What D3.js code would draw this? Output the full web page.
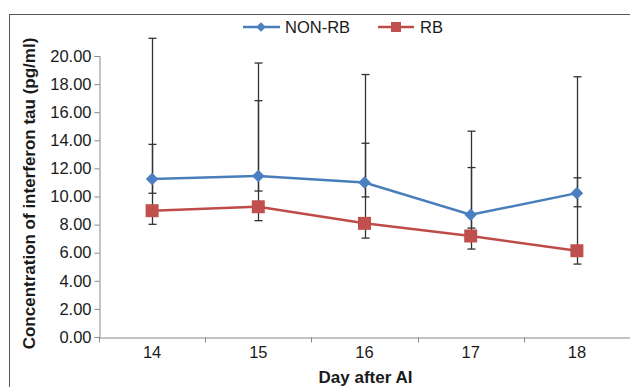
<!DOCTYPE html>
<html>
<head>
<meta charset="utf-8">
<script src="https://cdn.jsdelivr.net/npm/d3@7"></script>
<style>
  body { margin: 0; background: #fff; }
  text { font-family: "Liberation Sans", Arial, sans-serif; fill: #1a1a1a; }
</style>
</head>
<body>
<div id="chart"></div>
<script>
// data
var days = ["14", "15", "16", "17", "18"];
var nonRb = [11.25, 11.46, 11.0, 8.70, 10.24];
var nonRbLow = [10.23, 10.39, 9.97, 7.75, 9.27];
var nonRbHigh = [21.26, 19.5, 18.68, 14.65, 18.52];
var rb = [8.99, 9.27, 8.09, 7.19, 6.14];
var rbLow = [8.02, 8.28, 7.04, 6.26, 5.19];
var rbHigh = [13.71, 16.82, 13.79, 12.06, 11.33];
var yTicks = [0, 2, 4, 6, 8, 10, 12, 14, 16, 18, 20];

var W = 630, H = 387;
var margin = {top: 56, right: 0, bottom: 50, left: 99},
    width = W - margin.left - margin.right,
    height = H - margin.top - margin.bottom;

var svg = d3.select("#chart").append("svg")
    .attr("width", W)
    .attr("height", H);

// outer frame
svg.append("rect")
    .attr("x", 9.5).attr("y", 14.5)
    .attr("width", W + 10).attr("height", H + 10)
    .attr("fill", "none")
    .attr("stroke", "#555")
    .attr("stroke-width", 1);

var g = svg.append("g")
    .attr("transform", "translate(" + margin.left + "," + margin.top + ")");

var x = d3.scaleBand().domain(days).range([0, width]);
var y = d3.scaleLinear().domain([0, 20]).range([height, 0]);

var yAxis = d3.axisLeft(y).tickValues(yTicks).tickSize(5).tickPadding(3)
    .tickFormat(d3.format(".2f"));
var gy = g.append("g").attr("transform", "translate(0.5,0)").call(yAxis);
gy.select(".domain").attr("stroke", "#888");
gy.selectAll(".tick line").attr("stroke", "#888");
gy.selectAll(".tick text").style("font-size", "16.5px").attr("fill", "#1a1a1a");

var xAxis = d3.axisBottom(x).tickSize(0).tickPadding(9);
var gx = g.append("g").attr("transform", "translate(0," + (height + 0.5) + ")").call(xAxis);
gx.select(".domain").attr("stroke", "#888");
gx.selectAll(".tick text").style("font-size", "16.5px").attr("fill", "#1a1a1a");
// ticks between categories
gx.selectAll(".sep")
    .data(d3.range(days.length + 1))
    .enter().append("line")
    .attr("x1", function(i) { return Math.round(i * x.step()) + 0.5; })
    .attr("x2", function(i) { return Math.round(i * x.step()) + 0.5; })
    .attr("y1", 0).attr("y2", 5)
    .attr("stroke", "#888");

// axis titles
svg.append("text")
    .attr("transform", "translate(35," + (margin.top + height / 2 - 3) + ") rotate(-90)")
    .attr("text-anchor", "middle")
    .style("font-size", "17px").style("font-weight", "bold")
    .text("Concentration of interferon tau (pg/ml)");

svg.append("text")
    .attr("x", margin.left + width / 2 + 1).attr("y", 383)
    .attr("text-anchor", "middle")
    .style("font-size", "17px").style("font-weight", "bold")
    .text("Day after AI");

function cx(i) { return x(days[i]) + x.bandwidth() / 2; }

// error bars
function errBars(low, high, col) {
  var eb = g.append("g");
  days.forEach(function(d, i) {
    var xx = Math.round(cx(i)) + 0.5;
    eb.append("line")
        .attr("x1", xx).attr("x2", xx)
        .attr("y1", y(low[i])).attr("y2", y(high[i]))
        .attr("stroke", col).attr("stroke-width", 1.3);
    [low[i], high[i]].forEach(function(v) {
      eb.append("line")
          .attr("x1", xx - 4).attr("x2", xx + 4)
          .attr("y1", y(v)).attr("y2", y(v))
          .attr("stroke", col).attr("stroke-width", 1.3);
    });
  });
}
errBars(nonRbLow, nonRbHigh, "#333");
errBars(rbLow, rbHigh, "#333");

var line = d3.line()
    .x(function(d, i) { return cx(i); })
    .y(function(d) { return y(d); });

var blue = "#4A7EBB", blueM = "#4A80C2";
var red = "#BE4B48", redM = "#C0504D";

g.append("path").datum(nonRb)
    .attr("d", line).attr("fill", "none")
    .attr("stroke", blue).attr("stroke-width", 2.5);
g.append("path").datum(rb)
    .attr("d", line).attr("fill", "none")
    .attr("stroke", red).attr("stroke-width", 2.5);

var diamond = d3.symbol().type(d3.symbolDiamond2).size(100);
g.selectAll(".dm").data(nonRb).enter().append("path")
    .attr("transform", function(d, i) { return "translate(" + cx(i) + "," + y(d) + ")"; })
    .attr("d", diamond).attr("fill", blueM);

g.selectAll(".sq").data(rb).enter().append("rect")
    .attr("x", function(d, i) { return cx(i) - 6.5; })
    .attr("y", function(d) { return y(d) - 6.5; })
    .attr("width", 13).attr("height", 13)
    .attr("fill", redM);

// legend
var leg = svg.append("g");
leg.append("line").attr("x1", 243).attr("x2", 280).attr("y1", 27).attr("y2", 27)
    .attr("stroke", blue).attr("stroke-width", 2.5);
leg.append("path").attr("transform", "translate(261,27)")
    .attr("d", d3.symbol().type(d3.symbolDiamond2).size(60)).attr("fill", blueM);
leg.append("text").attr("x", 285).attr("y", 33)
    .style("font-size", "16.5px").text("NON-RB");
leg.append("line").attr("x1", 378).attr("x2", 414).attr("y1", 27).attr("y2", 27)
    .attr("stroke", red).attr("stroke-width", 2.5);
leg.append("rect").attr("x", 391).attr("y", 22).attr("width", 10).attr("height", 10)
    .attr("fill", redM);
leg.append("text").attr("x", 420).attr("y", 33)
    .style("font-size", "16.5px").text("RB");
</script>
</body>
</html>
